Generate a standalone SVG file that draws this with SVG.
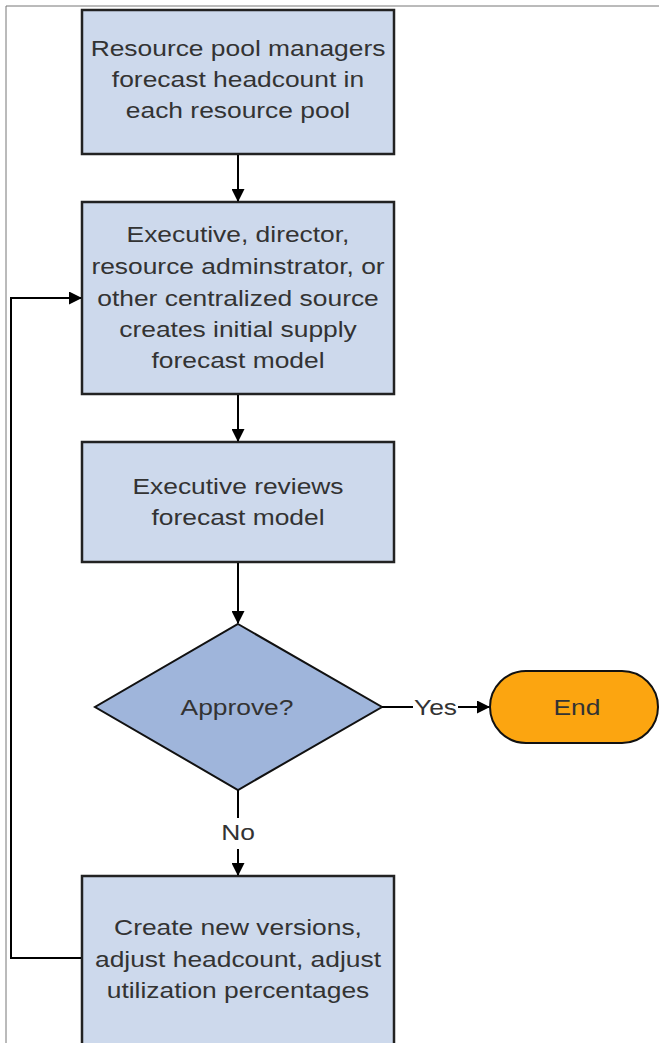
<svg xmlns="http://www.w3.org/2000/svg" width="659" height="1043" viewBox="0 0 659 1043">
<defs>
<marker id="arr" markerWidth="13" markerHeight="13" refX="12" refY="6.5" orient="auto" markerUnits="userSpaceOnUse" viewBox="0 0 13 13">
<path d="M0,0 L13,6.5 L0,13 Z" fill="#000"/>
</marker>
<style>
.box{fill:#cdd9ec;stroke:#222;stroke-width:2.5}
.dia{fill:#9fb5db;stroke:#111;stroke-width:2}
.end{fill:#fca510;stroke:#111;stroke-width:2}
.t{font-family:"Liberation Sans",Arial,sans-serif;font-size:22px;fill:#333;text-anchor:middle}
.c{fill:none;stroke:#000;stroke-width:2}
</style>
</defs>
<rect width="659" height="1043" fill="#fff"/>
<path d="M6,1043 V6 H659" fill="none" stroke="#777" stroke-width="1"/>
<g id="n1">
<rect class="box" x="82" y="10" width="312" height="144"/>
<g transform="translate(238,0) scale(1.2,1)">
<text class="t" x="0" y="56">Resource pool managers</text>
<text class="t" x="0" y="87">forecast headcount in</text>
<text class="t" x="0" y="118">each resource pool</text>
</g>
</g>
<g id="n2">
<rect class="box" x="82" y="202" width="312" height="192"/>
<g transform="translate(238,0) scale(1.2,1)">
<text class="t" x="0" y="242">Executive, director,</text>
<text class="t" x="0" y="274">resource adminstrator, or</text>
<text class="t" x="0" y="306">other centralized source</text>
<text class="t" x="0" y="337">creates initial supply</text>
<text class="t" x="0" y="368">forecast model</text>
</g>
</g>
<g id="n3">
<rect class="box" x="82" y="442" width="312" height="120"/>
<g transform="translate(238,0) scale(1.2,1)">
<text class="t" x="0" y="494">Executive reviews</text>
<text class="t" x="0" y="525">forecast model</text>
</g>
</g>
<g id="n4">
<polygon class="dia" points="238,624 382,707 238,790 95,707"/>
<g transform="translate(237,0) scale(1.2,1)">
<text class="t" x="0" y="715">Approve?</text>
</g>
</g>
<g id="n5">
<rect class="end" x="490" y="671" width="168" height="72" rx="36" ry="36"/>
<g transform="translate(577,0) scale(1.2,1)">
<text class="t" x="0" y="715">End</text>
</g>
</g>
<g id="n6">
<rect class="box" x="82" y="876" width="312" height="180"/>
<g transform="translate(238,0) scale(1.2,1)">
<text class="t" x="0" y="935">Create new versions,</text>
<text class="t" x="0" y="967">adjust headcount, adjust</text>
<text class="t" x="0" y="998">utilization percentages</text>
</g>
</g>
<g id="connectors">
<line class="c" x1="238" y1="155" x2="238" y2="201" marker-end="url(#arr)"/>
<line class="c" x1="238" y1="395" x2="238" y2="441" marker-end="url(#arr)"/>
<line class="c" x1="238" y1="563" x2="238" y2="623" marker-end="url(#arr)"/>
<path class="c" d="M382,707 H413 M458,707 H489" marker-end="url(#arr)"/>
<g transform="translate(435.5,0) scale(1.2,1)">
<text class="t" x="0" y="715">Yes</text>
</g>
<path class="c" d="M238,790 V818 M238,849 V875" marker-end="url(#arr)"/>
<g transform="translate(238,0) scale(1.2,1)">
<text class="t" x="0" y="840">No</text>
</g>
<path class="c" d="M81,958 H11 V298 H81" marker-end="url(#arr)"/>
</g>
</svg>
